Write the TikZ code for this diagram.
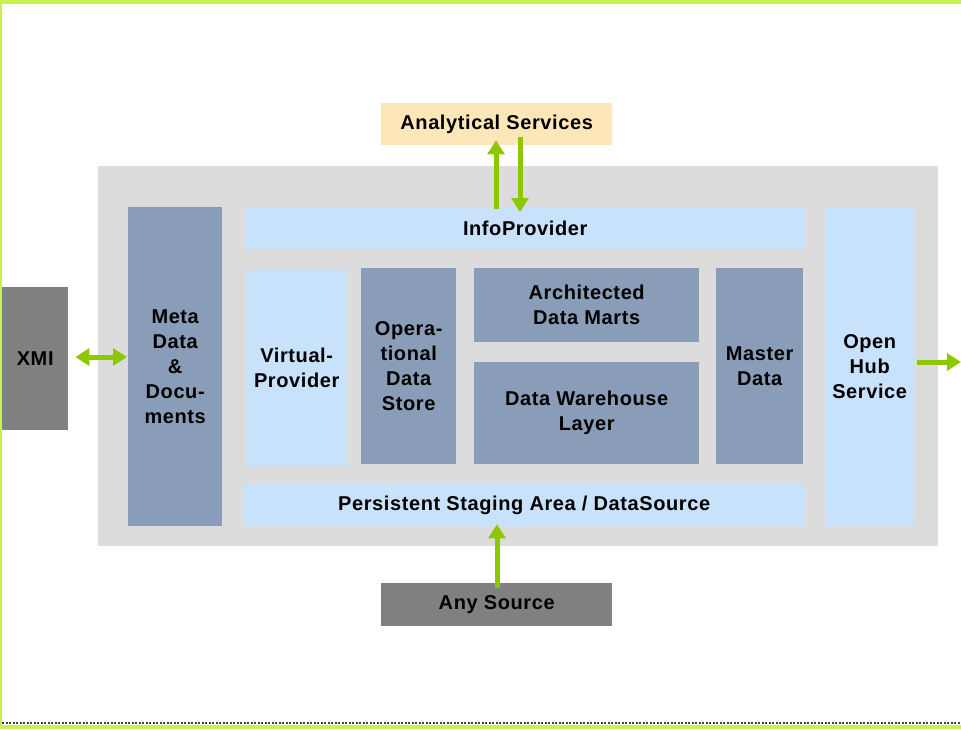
\documentclass[tikz,border=0pt]{standalone}
\usepackage{fontspec}
\setmainfont{Liberation Sans}[LetterSpace=3]
\usetikzlibrary{arrows.meta}
\definecolor{framegreen}{HTML}{C8F04E}
\definecolor{arrowgreen}{HTML}{8CC800}
\definecolor{outergray}{HTML}{DCDCDC}
\definecolor{slate}{HTML}{8A9DB8}
\definecolor{lightblue}{HTML}{C8E2FC}
\definecolor{beige}{HTML}{FDE7B8}
\definecolor{darkgray}{HTML}{808080}
\tikzset{
  box/.style={anchor=north west, inner sep=0pt, align=center,
    font=\fontsize{20}{25}\selectfont\bfseries},
  slatebox/.style={box, fill=slate},
  bluebox/.style={box, fill=lightblue},
  graybox/.style={box, fill=darkgray},
  beigebox/.style={box, fill=beige},
  garrow/.style={draw=arrowgreen, line width=5pt,
    -{Triangle[width=17pt,length=14pt]}},
  gdarrow/.style={draw=arrowgreen, line width=5pt,
    {Triangle[width=17pt,length=14pt]}-{Triangle[width=17pt,length=14pt]}},
}
\begin{document}
\begin{tikzpicture}[x=1pt,y=-1pt]
\useasboundingbox (0,0) rectangle (961,729);
% frame
\fill[framegreen] (0,0) rectangle (961,3.5);
\fill[framegreen] (0,0) rectangle (1.6,729);
\fill[framegreen] (0,724.5) rectangle (961,729);
\draw[black!75, line width=2pt, dash pattern=on 2pt off 1.5pt] (2,722.5) -- (961,722.5);
% outer gray area
\node[box, fill=outergray, minimum width=840, minimum height=380] (outer) at (98,166) {};
% boxes
\node[beigebox, minimum width=231, minimum height=42] (anal) at (381,103) {Analytical Services};
\node[bluebox, minimum width=560, minimum height=42] (info) at (245,207) {InfoProvider};
\node[slatebox, minimum width=94, minimum height=319] (meta) at (128,207) {Meta\\Data\\\&\\Docu-\\ments};
\node[bluebox, minimum width=101, minimum height=196] (virt) at (246,270) {Virtual-\\Provider};
\node[slatebox, minimum width=95, minimum height=196] (ods) at (361,268) {Opera-\\tional\\Data\\Store};
\node[slatebox, minimum width=225, minimum height=74] (adm) at (474,268) {Architected\\Data Marts};
\node[slatebox, minimum width=225, minimum height=102] (dwh) at (474,362) {Data Warehouse\\Layer};
\node[slatebox, minimum width=87, minimum height=196] (master) at (716,268) {Master\\Data};
\node[bluebox, minimum width=562, minimum height=42] (psa) at (243,484) {Persistent Staging Area / DataSource};
\node[bluebox, minimum width=89, minimum height=319] (ohs) at (825,207) {Open\\Hub\\Service};
\node[graybox, minimum width=66, minimum height=143] (xmi) at (2,287) {XMI};
\node[graybox, minimum width=231, minimum height=43] (any) at (381,583) {Any Source};
% connectors
\coordinate (rightend) at (961,362);
\draw[gdarrow] (xmi.east |- 0,357) ++(7,0) -- ([xshift=-1pt]meta.west |- 0,357);
\draw[garrow] ([xshift=3pt]ohs.east |- rightend) -- (rightend);
\draw[garrow] ([yshift=-2pt]info.north -| 496,0) -- ([yshift=5pt]anal.south -| 496,0);
\draw[garrow] ([yshift=8pt]anal.south -| 520,0) -- ([yshift=-5pt]info.north -| 520,0);
\draw[garrow] ([yshift=-5pt]any.north -| 497,0) -- ([yshift=2pt]psa.south -| 497,0);
\end{tikzpicture}
\end{document}
